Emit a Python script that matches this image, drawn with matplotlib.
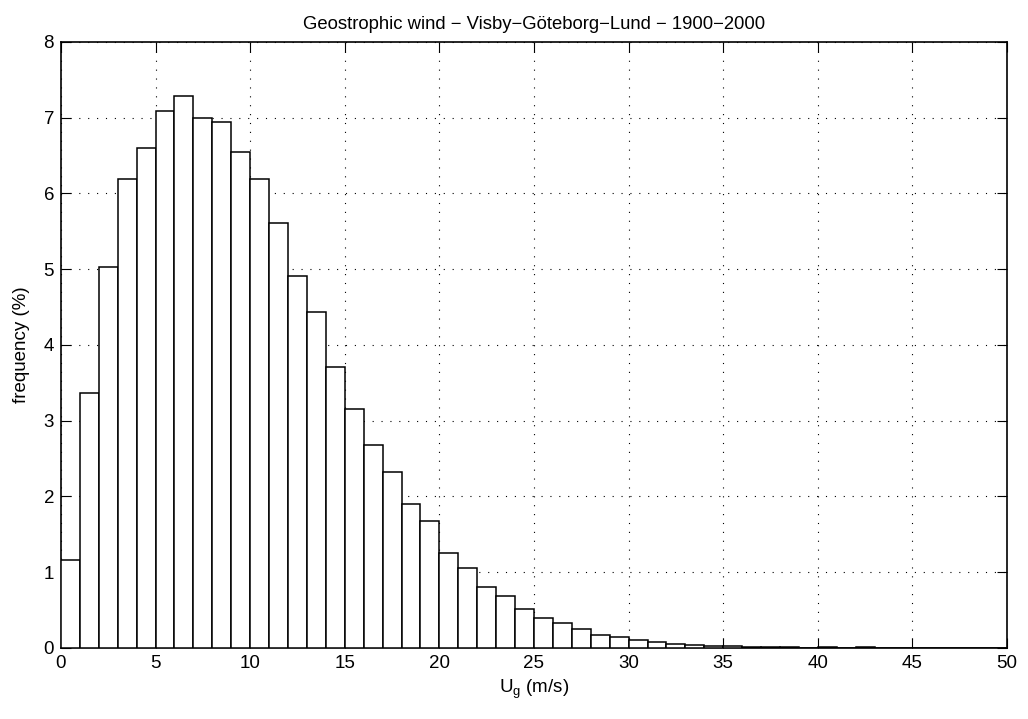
import numpy as np
import matplotlib
matplotlib.use('Agg')
import matplotlib.pyplot as plt

plt.rcParams.update({
    'font.family': ['Liberation Sans', 'DejaVu Sans'],
    'mathtext.fontset': 'custom',
    'mathtext.rm': 'Liberation Sans',
    'mathtext.it': 'Liberation Sans',
    'axes.linewidth': 1.2,
    'xtick.direction': 'in',
    'ytick.direction': 'in',
    'xtick.top': True,
    'ytick.right': True,
})

# bin edges (m/s) and frequency (%) per 1 m/s bin
bin_left = np.arange(0, 50)
freq = [1.16, 3.37, 5.03, 6.19, 6.60, 7.09, 7.29, 7.00, 6.94, 6.55,
        6.19, 5.61, 4.91, 4.43, 3.71, 3.16, 2.68, 2.32, 1.90, 1.68,
        1.25, 1.05, 0.81, 0.68, 0.52, 0.40, 0.33, 0.25, 0.17, 0.14,
        0.11, 0.075, 0.053, 0.035, 0.03, 0.022, 0.015, 0.01, 0.01, 0.005,
        0.01, 0.0, 0.01, 0.0, 0.0, 0.0, 0.0, 0.0, 0.0, 0.0]

fig = plt.figure(figsize=(10.28, 7.19), dpi=100)
ax = fig.add_axes([0.0593, 0.0988, 0.9203, 0.8428])

ax.bar(bin_left, freq, width=1.0, align='edge', color='white',
       edgecolor='black', linewidth=1.1, zorder=3)

ax.set_xlim(0, 50)
ax.set_ylim(0, 8)
ax.set_xticks(np.arange(0, 51, 5))
ax.set_yticks(np.arange(0, 9, 1))
ax.tick_params(labelsize=13.5, length=7, width=0.8, pad=5)
ax.grid(True, color='black', linestyle=(0, (1, 7)), linewidth=0.8, zorder=1)

ax.set_title('Geostrophic wind \u2212 Visby\u2212Göteborg\u2212Lund \u2212 1900\u22122000',
             fontsize=13.3, pad=9)
ax.set_xlabel('U$_\\mathrm{g}$ (m/s)', fontsize=13.5, labelpad=4)
ax.set_ylabel('frequency (%)', fontsize=13.5, labelpad=10)

fig.savefig('out.png', dpi=100)
